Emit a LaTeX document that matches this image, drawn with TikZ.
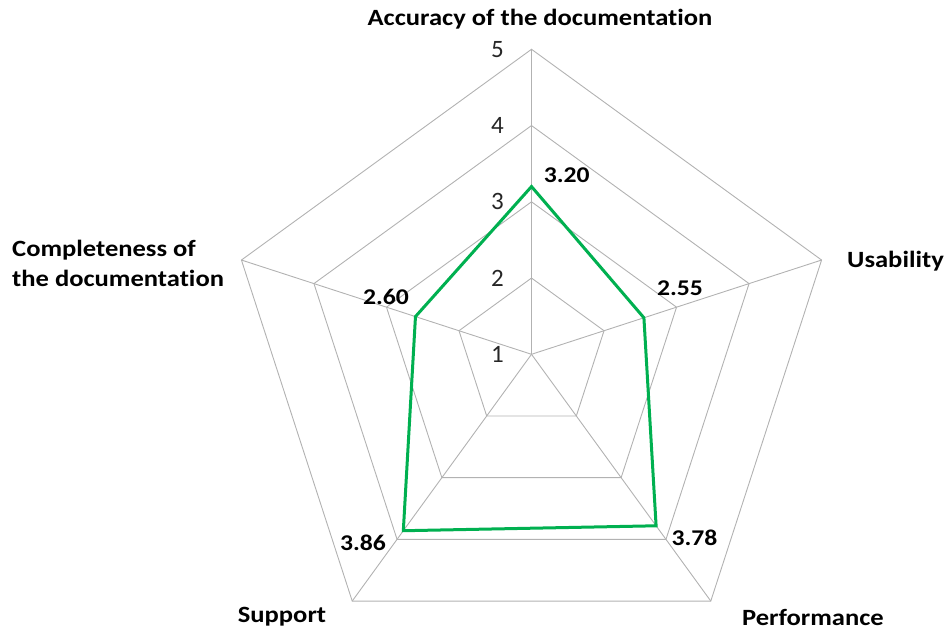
\documentclass[tikz,border=0pt]{standalone}
\usepackage{fontspec}
\setmainfont{Carlito}[Ligatures=NoCommon]
\newfontfamily\widefont{Carlito}[FakeStretch=1.14, Ligatures=NoCommon]
\usetikzlibrary{calc}
\definecolor{seriesgreen}{RGB}{0,176,80}
\definecolor{gridgray}{RGB}{178,178,178}
\begin{document}
\begin{tikzpicture}[x=1pt,y=1pt,
  gridline/.style={draw=gridgray, line width=0.9pt},
  series/.style={draw=seriesgreen, line width=3pt, line join=miter},
  catlabel/.style={font=\widefont\bfseries\fontsize{23.3}{30}\selectfont, text=black, inner sep=0pt},
  vallabel/.style={font=\widefont\bfseries\fontsize{22.5}{24}\selectfont, text=black, inner sep=0pt},
  ticklabel/.style={font=\fontsize{25}{26}\selectfont, text=black!85, inner sep=0pt}]
\useasboundingbox (0,0) rectangle (947,634);
\def\unit{76.25}
\begin{scope}[shift={(531.5,279.7)}]
  % concentric pentagons for values 2..5
  \foreach \k in {1,2,3,4}
    \draw[gridline] (90:\k*\unit) -- (18:\k*\unit) -- (-54:\k*\unit)
      -- (-126:\k*\unit) -- (162:\k*\unit) -- cycle;
  % spokes
  \foreach \a in {90,18,-54,-126,162}
    \draw[gridline] (0,0) -- (\a:4*\unit);
  % axis values
  \foreach \k in {0,1,2,3,4} {
    \pgfmathtruncatemacro{\lab}{\k+1}
    \node[ticklabel] (tick\lab) at ($(90:\k*\unit)+(-34,0)$) {\lab};
  }
  % data series
  \coordinate (pAcc)  at (90:2.20*\unit);
  \coordinate (pUse)  at (18:1.55*\unit);
  \coordinate (pPerf) at (-54:2.78*\unit);
  \coordinate (pSup)  at (-126:2.86*\unit);
  \coordinate (pComp) at (162:1.60*\unit);
  \draw[series] (pAcc) -- (pUse) -- (pPerf) -- (pSup) -- (pComp) -- cycle;
\end{scope}
% data labels
\node[vallabel] (vAcc)  at (566.7,459)  {3.20};
\node[vallabel] (vUse)  at (680,345.5)  {2.55};
\node[vallabel] (vComp) at (386,337)    {2.60};
\node[vallabel] (vSup)  at (363,91)     {3.86};
\node[vallabel] (vPerf) at (694.5,96.5) {3.78};
% category labels
\node[catlabel] (cAcc)  at (540,615)   {Accuracy of the documentation};
\node[catlabel] (cUse)  at (895.5,373) {Usability};
\node[catlabel, anchor=west, align=left] (cComp) at (12,371) {Completeness of\\the documentation};
\node[catlabel] (cPerf) at (813,17)    {Performance};
\node[catlabel] (cSup)  at (282,17)    {Support};
\end{tikzpicture}
\end{document}
